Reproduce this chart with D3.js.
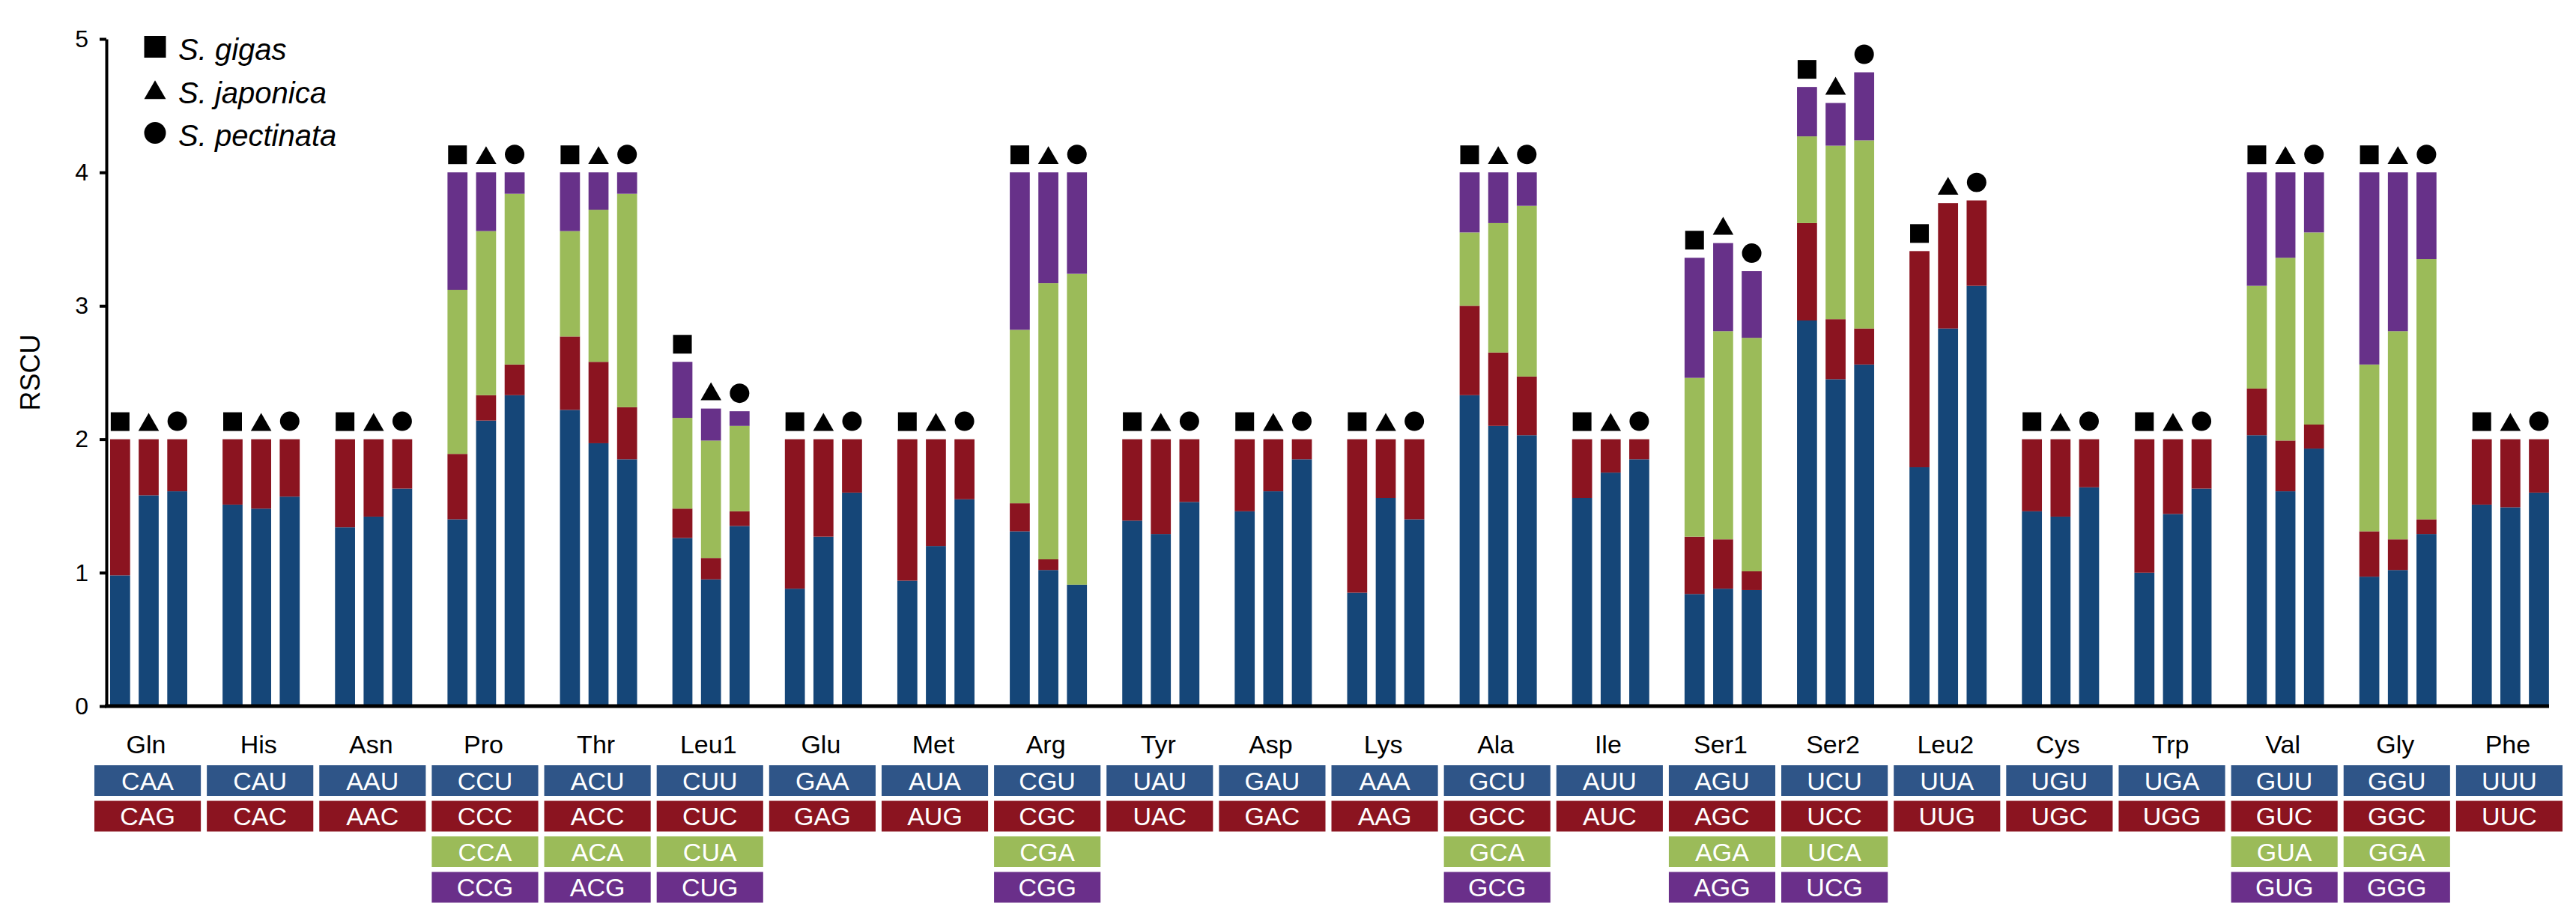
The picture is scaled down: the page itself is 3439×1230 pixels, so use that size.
<!DOCTYPE html>
<meta charset="utf-8">
<style>
body { margin: 0; background: #fff; }
text { font-family: "Liberation Sans", Arial, sans-serif; }
</style>
<svg width="3439" height="1230"></svg>
<script src="https://d3js.org/d3.v7.min.js"></script>
<script>

var aminoAcids = ["Gln","His","Asn","Pro","Thr","Leu1","Glu","Met","Arg","Tyr","Asp",
                  "Lys","Ala","Ile","Ser1","Ser2","Leu2","Cys","Trp","Val","Gly","Phe"];

var codons = [
  ["CAA","CAG"], ["CAU","CAC"], ["AAU","AAC"], ["CCU","CCC","CCA","CCG"],
  ["ACU","ACC","ACA","ACG"], ["CUU","CUC","CUA","CUG"], ["GAA","GAG"], ["AUA","AUG"],
  ["CGU","CGC","CGA","CGG"], ["UAU","UAC"], ["GAU","GAC"], ["AAA","AAG"],
  ["GCU","GCC","GCA","GCG"], ["AUU","AUC"], ["AGU","AGC","AGA","AGG"],
  ["UCU","UCC","UCA","UCG"], ["UUA","UUG"], ["UGU","UGC"], ["UGA","UGG"],
  ["GUU","GUC","GUA","GUG"], ["GGU","GGC","GGA","GGG"], ["UUU","UUC"]
];

var species = ["S. gigas", "S. japonica", "S. pectinata"];

// RSCU per codon, same order as codons
var rscuGigas = [
  [0.98,1.02], [1.51,0.49], [1.34,0.66], [1.40,0.49,1.23,0.88],
  [2.22,0.55,0.79,0.44], [1.26,0.22,0.68,0.42], [0.88,1.12], [0.94,1.06],
  [1.31,0.21,1.30,1.18], [1.39,0.61], [1.46,0.54], [0.85,1.15],
  [2.33,0.67,0.55,0.45], [1.56,0.44], [0.84,0.43,1.19,0.90],
  [2.89,0.73,0.65,0.37], [1.79,1.62], [1.46,0.54], [1.00,1.00],
  [2.03,0.35,0.77,0.85], [0.97,0.34,1.25,1.44], [1.51,0.49]
];
var rscuJaponica = [
  [1.58,0.42], [1.48,0.52], [1.42,0.58], [2.14,0.19,1.23,0.44],
  [1.97,0.61,1.14,0.28], [0.95,0.16,0.88,0.24], [1.27,0.73], [1.20,0.80],
  [1.02,0.08,2.07,0.83], [1.29,0.71], [1.61,0.39], [1.56,0.44],
  [2.10,0.55,0.97,0.38], [1.75,0.25], [0.88,0.37,1.56,0.66],
  [2.45,0.45,1.30,0.32], [2.83,0.94], [1.42,0.58], [1.44,0.56],
  [1.61,0.38,1.37,0.64], [1.02,0.23,1.56,1.19], [1.49,0.51]
];
var rscuPectinata = [
  [1.61,0.39], [1.57,0.43], [1.63,0.37], [2.33,0.23,1.28,0.16],
  [1.85,0.39,1.60,0.16], [1.35,0.11,0.64,0.11], [1.60,0.40], [1.55,0.45],
  [0.91,0.00,2.33,0.76], [1.53,0.47], [1.85,0.15], [1.40,0.60],
  [2.03,0.44,1.28,0.25], [1.85,0.15], [0.87,0.14,1.75,0.50],
  [2.56,0.27,1.41,0.51], [3.15,0.64], [1.64,0.36], [1.63,0.37],
  [1.93,0.18,1.44,0.45], [1.29,0.11,1.95,0.65], [1.60,0.40]
];

var yTicks = [0, 1, 2, 3, 4, 5];

var barColors = ["#154678", "#8b1420", "#9bbb59", "#673189"];
var boxColors = ["#2f5588", "#8b1420", "#9bbb59", "#6a2f8a"];

var svg = d3.select("svg");
svg.append("rect").attr("width", 3439).attr("height", 1230).attr("fill", "#fff");

var x = d3.scaleBand().domain(aminoAcids).range([122, 3425]);
var xs = d3.scaleBand().domain(species).range([25, 128]).paddingInner(0.3);
var y = d3.scaleLinear().domain([0, 5]).range([943, 52]);

var allRscu = [rscuGigas, rscuJaponica, rscuPectinata];
var shapes = [d3.symbolSquare, d3.symbolTriangle, d3.symbolCircle];

// flatten into bar segments
var segments = [];
var tops = [];
aminoAcids.forEach(function(aa, i) {
  species.forEach(function(sp, s) {
    var vals = allRscu[s][i];
    var cum = Array.from(d3.cumsum(vals));
    vals.forEach(function(v, k) {
      segments.push({aa: aa, sp: sp, k: k, y0: cum[k] - v, y1: cum[k]});
    });
    tops.push({aa: aa, sp: sp, s: s, total: cum[cum.length - 1]});
  });
});

var plot = svg.append("g");

plot.selectAll("rect.seg")
  .data(segments)
  .enter().append("rect")
  .attr("class", "seg")
  .attr("x", function(d) { return x(d.aa) + xs(d.sp); })
  .attr("width", xs.bandwidth())
  .attr("y", function(d) { return y(d.y1); })
  .attr("height", function(d) { return y(d.y0) - y(d.y1); })
  .attr("fill", function(d) { return barColors[d.k]; });

// species markers above each bar
var markerSize = [625, 330, 530];
var markerLift = [12.5, 8.1, 13];
plot.selectAll("path.mk")
  .data(tops)
  .enter().append("path")
  .attr("class", "mk")
  .attr("d", function(d) { return d3.symbol().type(shapes[d.s]).size(markerSize[d.s])(); })
  .attr("transform", function(d) {
    return "translate(" + (x(d.aa) + xs(d.sp) + xs.bandwidth() / 2) + "," +
      (y(d.total) - 11 - markerLift[d.s]) + ")";
  })
  .attr("fill", "#000");

// axes
var yAxis = svg.append("g")
  .attr("transform", "translate(142,0)")
  .call(d3.axisLeft(y).tickValues(yTicks).tickFormat(d3.format("d")).tickSize(9).tickSizeOuter(0));
yAxis.select(".domain").attr("stroke", "#000").attr("stroke-width", 4);
yAxis.selectAll(".tick line").attr("stroke", "#000").attr("stroke-width", 4);
yAxis.selectAll(".tick text")
  .attr("x", -24)
  .attr("font-size", 32)
  .attr("font-family", "Liberation Sans, Arial, sans-serif")
  .attr("fill", "#000");

svg.append("line")
  .attr("x1", 140).attr("x2", 3403)
  .attr("y1", y(0)).attr("y2", y(0))
  .attr("stroke", "#000").attr("stroke-width", 5);

svg.append("text")
  .attr("transform", "translate(53," + y(2.5) + ") rotate(-90)")
  .attr("text-anchor", "middle")
  .attr("font-size", 36)
  .text("RSCU");

// amino acid labels
svg.selectAll("text.aa")
  .data(aminoAcids)
  .enter().append("text")
  .attr("class", "aa")
  .attr("x", function(d) { return x(d) + x.bandwidth() / 2 - 2; })
  .attr("y", 1006)
  .attr("text-anchor", "middle")
  .attr("font-size", 34)
  .text(function(d) { return d; });

// codon boxes
var boxes = [];
aminoAcids.forEach(function(aa, i) {
  codons[i].forEach(function(c, k) { boxes.push({aa: aa, codon: c, k: k}); });
});
var boxG = svg.selectAll("g.box")
  .data(boxes)
  .enter().append("g")
  .attr("class", "box")
  .attr("transform", function(d) { return "translate(" + (x(d.aa) + 4) + "," + (1022 + d.k * 47.5) + ")"; });
boxG.append("rect")
  .attr("width", x.bandwidth() - 8)
  .attr("height", 41)
  .attr("fill", function(d) { return boxColors[d.k]; });
boxG.append("text")
  .attr("x", (x.bandwidth() - 8) / 2)
  .attr("y", 32.5)
  .attr("text-anchor", "middle")
  .attr("font-size", 34)
  .attr("fill", "#fff")
  .text(function(d) { return d.codon; });

// legend
var legendSize = [841, 364, 660];
var legendShift = [0, 4, 0];
var legend = svg.selectAll("g.legend")
  .data(species)
  .enter().append("g")
  .attr("class", "legend")
  .attr("transform", function(d, i) { return "translate(207," + (62.5 + i * 57.5) + ")"; });
legend.append("path")
  .attr("d", function(d, i) { return d3.symbol().type(shapes[i]).size(legendSize[i])(); })
  .attr("transform", function(d, i) { return "translate(0," + legendShift[i] + ")"; })
  .attr("fill", "#000");
legend.append("text")
  .attr("x", 31)
  .attr("y", 17.5)
  .attr("font-size", 40)
  .attr("font-style", "italic")
  .text(function(d) { return d; });

</script>
